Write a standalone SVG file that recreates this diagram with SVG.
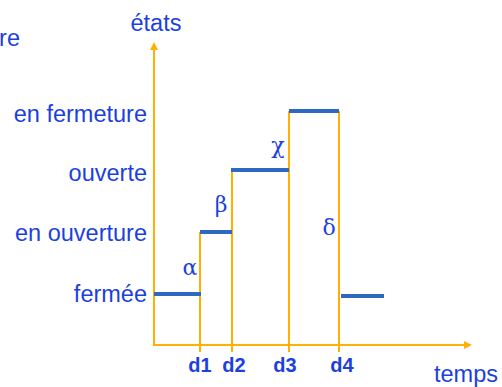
<svg xmlns="http://www.w3.org/2000/svg" width="502" height="387" viewBox="0 0 502 387">
<style>
.t{font-family:"Liberation Sans",Arial,sans-serif;font-size:23.5px;fill:#1c3fe0}
.l{text-anchor:end}
.d{font-family:"Liberation Sans",Arial,sans-serif;font-size:20px;font-weight:bold;fill:#1c3fe0;text-anchor:middle}
.g{font-family:"DejaVu Serif",serif;font-size:22px;fill:#1c3fe0;text-anchor:middle}
.ax{stroke:#ffb000;stroke-width:2;fill:none}
.bar{stroke:#2f68c0;stroke-width:4}
</style>
<rect width="502" height="387" fill="#fff"/>
<g id="axes">
<path class="ax" d="M154,48 V345 H466"/>
<polygon points="150,50 158,50 154,42" fill="#ffb000"/>
<polygon points="464,341 464,349 472,345" fill="#ffb000"/>
</g>
<g id="connectors">
<line class="ax" x1="200" y1="232" x2="200" y2="352"/>
<line class="ax" x1="232" y1="170" x2="232" y2="352"/>
<line class="ax" x1="289" y1="111" x2="289" y2="352"/>
<line class="ax" x1="339" y1="111" x2="339" y2="352"/>
</g>
<g id="bars">
<line class="bar" x1="154" y1="294" x2="201" y2="294"/>
<line class="bar" x1="200" y1="232" x2="232" y2="232"/>
<line class="bar" x1="231" y1="170" x2="289" y2="170"/>
<line class="bar" x1="289" y1="111" x2="339" y2="111"/>
<line class="bar" x1="341" y1="296" x2="384" y2="296"/>
</g>
<g id="labels">
<text class="t l" x="20" y="46">re</text>
<text class="t" x="156" y="31" text-anchor="middle">états</text>
<text class="t l" x="147" y="122">en fermeture</text>
<text class="t l" x="147" y="181">ouverte</text>
<text class="t l" x="147" y="241">en ouverture</text>
<text class="t l" x="147" y="302">fermée</text>
<text class="t" x="498" y="382" text-anchor="end">temps</text>
</g>
<g id="ticks">
<text class="d" x="200" y="372">d1</text>
<text class="d" x="234" y="372">d2</text>
<text class="d" x="285" y="372">d3</text>
<text class="d" x="342" y="372">d4</text>
</g>
<g id="transitions">
<text class="g" x="190" y="275">α</text>
<text class="g" x="221" y="212">β</text>
<text class="g" x="278" y="153">χ</text>
<text class="g" x="329" y="235">δ</text>
</g>
</svg>
